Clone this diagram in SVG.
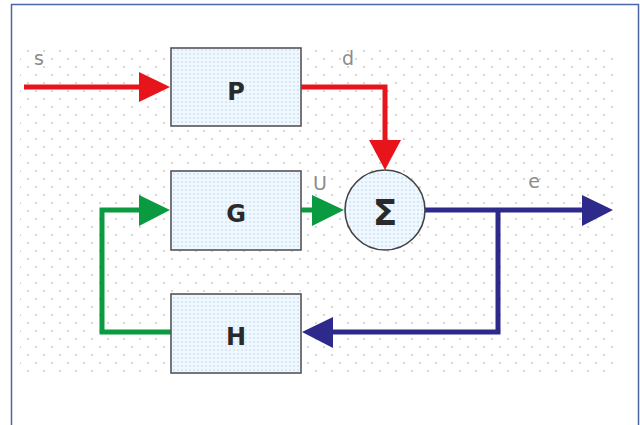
<svg xmlns="http://www.w3.org/2000/svg" width="640" height="425" viewBox="0 0 640 425">
<defs>
<pattern id="grid" x="0" y="0" width="16" height="16" patternUnits="userSpaceOnUse">
<circle cx="4" cy="11" r="0.9" fill="#c4c4c4"/>
<circle cx="12" cy="3" r="0.9" fill="#c4c4c4"/>
</pattern>
<pattern id="boxfill" x="0" y="0" width="4" height="4" patternUnits="userSpaceOnUse">
<rect width="4" height="4" fill="#eef8ff"/>
<circle cx="2" cy="2" r="0.7" fill="#bcc4ee"/>
</pattern>
<style>
.box{fill:url(#boxfill);stroke:#555;stroke-width:1.6}
.lbl{font-family:"DejaVu Sans",sans-serif;font-size:24px;font-weight:bold;fill:#2a2a2a;text-anchor:middle}
.sig{font-family:"DejaVu Sans",sans-serif;font-size:19px;fill:#8c8c8c;text-anchor:middle}
.red{stroke:#e8141b;fill:none;stroke-width:5}
.grn{stroke:#0a9a40;fill:none;stroke-width:5}
.blu{stroke:#2e2a8c;fill:none;stroke-width:5}
.redh{fill:#e8141b}
.grnh{fill:#0a9a40}
.bluh{fill:#2e2a8c}
</style>
</defs>
<rect x="0" y="0" width="640" height="425" fill="#ffffff"/>
<rect x="20" y="48" width="596" height="327" fill="url(#grid)"/>
<rect x="11.5" y="4.5" width="627" height="430" fill="none" stroke="#4a68a8" stroke-width="1.5"/>

<g id="connectors">
<path class="red" d="M24 87H141"/>
<polygon class="redh" points="139,72 170,87 139,102"/>
<path class="red" d="M301 87H385V142"/>
<polygon class="redh" points="369,140 401,140 385,170"/>
<path class="grn" d="M301 210H314"/>
<polygon class="grnh" points="312,195 344,210 312,226"/>
<path class="grn" d="M171 332H102V210H141"/>
<polygon class="grnh" points="139,195 170,210 139,226"/>
<path class="blu" d="M425 210H584"/>
<polygon class="bluh" points="582,195 613,210 582,226"/>
<path class="blu" d="M498 210V332H331"/>
<polygon class="bluh" points="333,317 302,332 333,348"/>
</g>

<g id="labels">
<text class="sig" x="39" y="65">s</text>
<text class="sig" x="348" y="65">d</text>
<text class="sig" x="320" y="190">U</text>
<text class="sig" x="534" y="188">e</text>
</g>

<g id="P">
<rect class="box" x="171" y="48" width="130" height="78"/>
<text class="lbl" x="236" y="100">P</text>
</g>
<g id="G">
<rect class="box" x="171" y="171" width="130" height="79"/>
<text class="lbl" x="236" y="222">G</text>
</g>
<g id="H">
<rect class="box" x="171" y="294" width="130" height="79"/>
<text class="lbl" x="236" y="345">H</text>
</g>
<g id="Sum">
<circle cx="385" cy="210" r="40" fill="url(#boxfill)" stroke="#444" stroke-width="1.6"/>
<text class="lbl" x="385" y="225" style="font-size:36px">Σ</text>
</g>
</svg>
